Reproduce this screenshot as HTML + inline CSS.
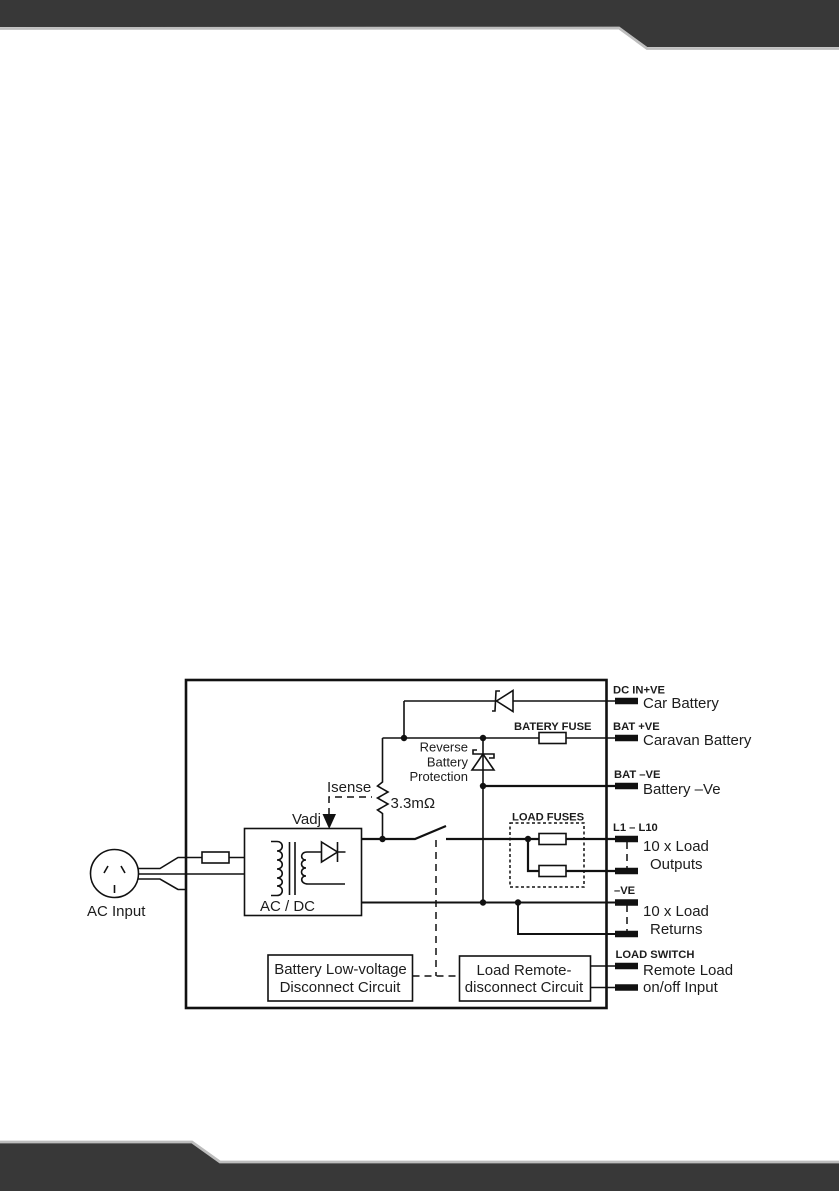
<!DOCTYPE html>
<html><head><meta charset="utf-8"><style>
html,body{margin:0;padding:0;background:#fff;width:839px;height:1191px;overflow:hidden}
svg{display:block}
text{font-family:"Liberation Sans",sans-serif;fill:#1c1c1c}
.l{font-size:15px}.b{font-size:11.2px;font-weight:bold}.r{font-size:13px;text-anchor:end}.m{text-anchor:middle}
</style></head><body>
<svg width="839" height="1191" viewBox="0 0 839 1191" fill="none">
<polygon points="0,0 839,0 839,47 647,47 619,27 0,27" fill="#383838"/>
<polyline points="0,28.5 619,28 647,48.5 839,48.5" stroke="#bdbdbd" stroke-width="2.8"/>
<polygon points="0,1143 192,1143 220,1163 839,1163 839,1191 0,1191" fill="#383838"/>
<polyline points="0,1142 192,1142 220,1162 839,1162" stroke="#bdbdbd" stroke-width="2.8"/>

<rect x="186" y="680" width="420.5" height="328" stroke="#111" stroke-width="2.6"/>

<g stroke="#111" stroke-width="1.6">
<circle cx="114.5" cy="873.5" r="24"/>
<path d="M104 873l4-7M125 873l-4-7M114.5 885v8" />
<path d="M138 868.5h22l18-11h24M229 857.5h15.5M138 874h106.5M138 879h22l18 10.5h8"/>
<rect x="202" y="852" width="27" height="11"/>
<rect x="244.5" y="828.5" width="117" height="87"/>
<path d="M271 841.5h6c7 0 7 9.500 0 9.500c7 0 7 9 0 9c7 0 7 9 0 9c7 0 7 9 0 9c7 0 7 8 0 8c7 0 7 9.500 0 9.500h-6"/>
<path d="M289.500 842v53M295 842v53"/>
<path d="M321 852h-14c-7 0-7 8-1 8c-6 0-6 8 0 8c-6 0-6 8 0 8c-6 0-6 8 2 8h37"/>
<path d="M321.500 842l16 10-16 10zM337.500 842v20M337.500 852h8"/>
<path d="M404 701h91M513 701h102M404 701v37M382.500 738h156.500M566 738h49"/>
<path d="M513 690.500v21l-16.500-10.500zM500 691h-4l-1 20h-3"/>
<path d="M382.500 738v44l-5 4 10.500 6-10.500 6 10.500 6-10.500 6 5 3.500v25.500"/>
<rect x="539" y="732.500" width="27" height="11"/>
<path d="M483 738v164.500"/>
<path d="M483 754l-11 16h22zM477 750h-4v4h21v4h-5"/>
<rect x="539" y="833.500" width="27" height="11"/>
<rect x="539" y="865.500" width="27" height="11"/>
<rect x="268" y="955" width="144.500" height="46"/>
<rect x="459.500" y="956" width="131" height="45"/>
<path d="M590 966h25M590 987.500h25"/>
</g>
<g stroke="#111" stroke-width="2.200">
<path d="M361 839h54l31-13M446 839h93M566 839h49"/>
<path d="M483 786h132"/>
<path d="M528 839v32h11M566 871h49"/>
<path d="M361 902.500h254M518 902.500v31.500h97" stroke-width="1.900"/>
</g>
<g stroke="#111" stroke-width="6.500">
<path d="M615 701h23M615 738h23M615 786h23M615 839h23M615 871h23M615 902.500h23M615 934h23M615 966h23M615 987.500h23"/>
</g>
<g stroke="#111" stroke-width="1.500" stroke-dasharray="7 5">
<path d="M627 842v29M627 905v29"/>
<path d="M329 815v-18h43"/>
<path d="M436 840v136"/>
<path d="M412.500 976h47"/>
</g>
<rect x="510" y="823" width="74" height="64" stroke="#111" stroke-width="1.500" stroke-dasharray="3 2.500"/>
<polygon points="322.500,814 336,814 329.200,829" fill="#111"/>
<g fill="#111">
<circle cx="404" cy="738" r="3.200"/><circle cx="483" cy="738" r="3.200"/><circle cx="483" cy="786" r="3.200"/>
<circle cx="382.500" cy="839" r="3.200"/><circle cx="528" cy="839" r="3.200"/>
<circle cx="483" cy="902.500" r="3.200"/><circle cx="518" cy="902.500" r="3.200"/>
</g>

<text class="l" x="87" y="916">AC Input</text>
<text class="l" x="260" y="911">AC / DC</text>
<text class="l" x="327" y="792">Isense</text>
<text class="l" x="292" y="824">Vadj</text>
<text class="l" x="390.500" y="808">3.3mΩ</text>
<text class="r" x="468" y="751.500">Reverse</text>
<text class="r" x="468" y="766.500">Battery</text>
<text class="r" x="468" y="781">Protection</text>
<text class="b" x="613" y="693.500">DC IN+VE</text>
<text class="b" x="514" y="730">BATERY FUSE</text>
<text class="b" x="613" y="730">BAT +VE</text>
<text class="b" x="614" y="778">BAT –VE</text>
<text class="b" x="512" y="820.500">LOAD FUSES</text>
<text class="b" x="613" y="831">L1 – L10</text>
<text class="b" x="614" y="894">–VE</text>
<text class="b" x="615.500" y="958">LOAD SWITCH</text>
<text class="l" x="643" y="708">Car Battery</text>
<text class="l" x="643" y="745">Caravan Battery</text>
<text class="l" x="643" y="794">Battery –Ve</text>
<text class="l" x="643" y="851">10 x Load</text>
<text class="l" x="650" y="869">Outputs</text>
<text class="l" x="643" y="916">10 x Load</text>
<text class="l" x="650" y="934">Returns</text>
<text class="l" x="643" y="975">Remote Load</text>
<text class="l" x="643" y="992">on/off Input</text>
<text class="l m" x="340.500" y="974">Battery Low-voltage</text>
<text class="l m" x="340" y="992">Disconnect Circuit</text>
<text class="l m" x="524" y="975">Load Remote-</text>
<text class="l m" x="524" y="992">disconnect Circuit</text>
</svg>
</body></html>
